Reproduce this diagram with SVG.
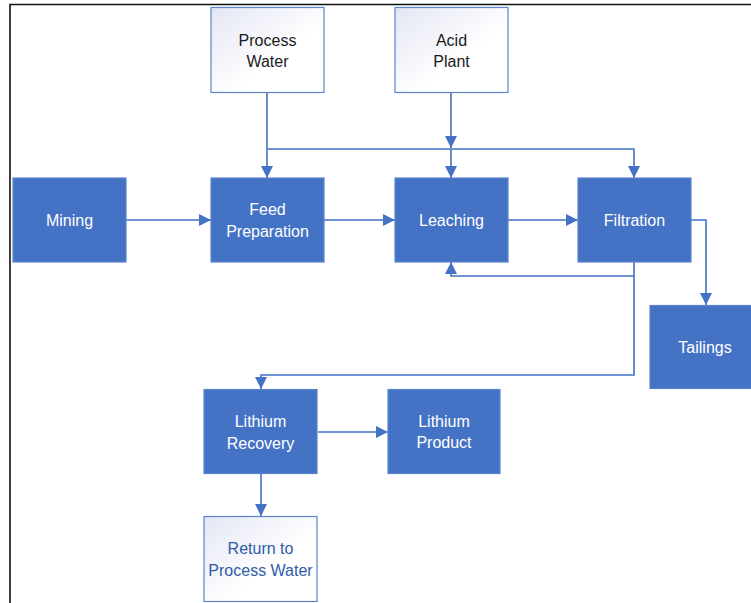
<svg xmlns="http://www.w3.org/2000/svg" width="751" height="603" viewBox="0 0 751 603">
<style>
.blue{fill:#4472C4;stroke:#5B84CC;stroke-width:1.2}
.light{fill:url(#lg);stroke:#5B84CC;stroke-width:1.2}
.t{font-family:"Liberation Sans",Arial,sans-serif;font-size:16px;text-anchor:middle}
.w{fill:#FFFFFF}
.k{fill:#1A1A1A}
.b{fill:#2F5BA8}
.c{fill:none;stroke:#4472C4;stroke-width:1.6}
</style>
<defs>
<linearGradient id="lg" x1="0" y1="0" x2="1" y2="1">
<stop offset="0" stop-color="#E4E6F4"/>
<stop offset="0.6" stop-color="#FFFFFF"/>
<stop offset="1" stop-color="#FFFFFF"/>
</linearGradient>
<marker id="ah" markerWidth="12" markerHeight="12" refX="10" refY="5" orient="auto" markerUnits="userSpaceOnUse" viewBox="0 0 10 10">
<path d="M0,0 L10,5 L0,10 Z" fill="#4472C4"/>
</marker>
</defs>
<rect width="751" height="603" fill="#FFFFFF"/>
<path d="M10,603 V4.5 H751" fill="none" stroke="#111" stroke-width="1.6"/>
<g id="connectors">
<path class="c" d="M267,92 V178" marker-end="url(#ah)"/>
<path class="c" d="M267,149 H634 V178" marker-end="url(#ah)"/>
<path class="c" d="M451,92 V148" marker-end="url(#ah)"/>
<path class="c" d="M451,149 V178" marker-end="url(#ah)"/>
<path class="c" d="M126,220 H211" marker-end="url(#ah)"/>
<path class="c" d="M324,220 H395" marker-end="url(#ah)"/>
<path class="c" d="M508,220 H578" marker-end="url(#ah)"/>
<path class="c" d="M691,220 H706 V305" marker-end="url(#ah)"/>
<path class="c" d="M634,262 V276 H451 V262" marker-end="url(#ah)"/>
<path class="c" d="M634,276 V375 H261 V389" marker-end="url(#ah)"/>
<path class="c" d="M318,432 H388" marker-end="url(#ah)"/>
<path class="c" d="M261,474 V516" marker-end="url(#ah)"/>
</g>
<g id="process-water"><rect class="light" x="211" y="7.5" width="113" height="85"/><text class="t k" x="267.5" y="46">Process</text><text class="t k" x="267.5" y="67">Water</text></g>
<g id="acid-plant"><rect class="light" x="395" y="7.5" width="113" height="85"/><text class="t k" x="451.5" y="46">Acid</text><text class="t k" x="451.5" y="67">Plant</text></g>
<g id="mining"><rect class="blue" x="13" y="178" width="113" height="84"/><text class="t w" x="69.5" y="226">Mining</text></g>
<g id="feed-preparation"><rect class="blue" x="211" y="178" width="113" height="84"/><text class="t w" x="267.5" y="215">Feed</text><text class="t w" x="267.5" y="237">Preparation</text></g>
<g id="leaching"><rect class="blue" x="395" y="178" width="113" height="84"/><text class="t w" x="451.5" y="226">Leaching</text></g>
<g id="filtration"><rect class="blue" x="578" y="178" width="113" height="84"/><text class="t w" x="634.5" y="226">Filtration</text></g>
<g id="tailings"><rect class="blue" x="650" y="305.5" width="105" height="83"/><text class="t w" x="705" y="353">Tailings</text></g>
<g id="lithium-recovery"><rect class="blue" x="204" y="389.5" width="113" height="84"/><text class="t w" x="260.5" y="427">Lithium</text><text class="t w" x="260.5" y="449">Recovery</text></g>
<g id="lithium-product"><rect class="blue" x="388" y="389.5" width="112" height="84"/><text class="t w" x="444" y="427">Lithium</text><text class="t w" x="444" y="448">Product</text></g>
<g id="return-to-process-water"><rect class="light" x="204" y="516.5" width="113" height="85"/><text class="t b" x="260.5" y="554">Return to</text><text class="t b" x="260.5" y="576">Process Water</text></g>
</svg>
